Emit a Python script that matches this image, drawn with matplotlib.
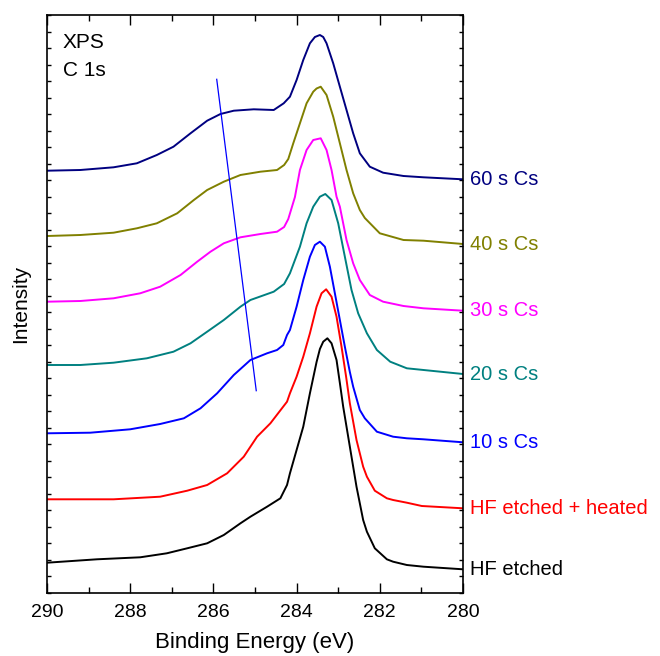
import matplotlib
matplotlib.use("Agg")
import matplotlib.pyplot as plt
from matplotlib.ticker import MultipleLocator, NullFormatter

plt.rcParams['font.family'] = ['Liberation Sans', 'DejaVu Sans']

# binding energy (eV) / intensity (arb. units, offset)
be_hf = [290, 288.8, 287.76, 287.12, 286.63, 286.15, 285.75, 285.35, 285.11, 284.71, 284.39, 284.23,
         284.16, 284.0, 283.84, 283.68, 283.52, 283.44, 283.36, 283.26, 283.16, 283.04, 282.96,
         282.88, 282.72, 282.56, 282.4, 282.31, 282.12, 281.83, 281.68, 281.35, 280.95, 280.0]
int_hf = [30.3, 33.7, 35.7, 39.7, 44.7, 49.7, 58, 69.7, 76.3, 86.3, 94.7, 108,
          119.7, 143, 166.3, 199.7, 231, 244, 251.3, 254.7, 249.7, 233, 210,
          186.3, 146.3, 106.3, 73, 61.3, 44.7, 33.7, 31.3, 28, 26.3, 23.7]

be_heat = [290, 288.4, 287.28, 286.63, 286.15, 285.67, 285.27, 284.95, 284.63, 284.23, 284.16,
           284.0, 283.84, 283.68, 283.52, 283.4, 283.29, 283.16, 283.04, 282.92, 282.81, 282.72,
           282.56, 282.4, 282.31, 282.12, 281.83, 281.68, 281.35, 280.99, 280.0]
int_heat = [93.7, 93.7, 96.3, 102.3, 108, 119.7, 136.3, 156.3, 169.7, 191.3, 199.7,
            216.3, 236.3, 259.7, 286.3, 299.7, 303.7, 296.3, 276.3, 246.3, 216.3, 189.7,
            153, 126.3, 116.3, 102.3, 94.7, 93, 90.3, 87, 84.7]

be_10 = [290, 288.96, 288.0, 287.28, 286.71, 286.31, 285.91, 285.51, 285.11, 284.71, 284.47, 284.32,
         284.23, 284.16, 284.0, 283.84, 283.68, 283.56, 283.44, 283.32, 283.2, 283.08, 282.96,
         282.84, 282.72, 282.64, 282.48, 282.36, 282.07, 281.68, 281.35, 280.95, 280.0]
int_10 = [159.7, 160.3, 163.7, 169, 174.7, 184.7, 199.7, 218, 233, 239.7, 243, 248,
          258, 263, 286.3, 313, 336.3, 348, 351.3, 346.3, 326.3, 299.7, 273,
          246.3, 221, 206.3, 183, 174.7, 161.3, 156.3, 154.7, 153.7, 150.7]

be_20 = [290, 289.2, 288.4, 287.6, 286.96, 286.55, 286.15, 285.75, 285.35, 285.11, 284.55, 284.3,
         284.16, 283.92, 283.76, 283.6, 283.44, 283.31, 283.16, 283.0, 282.84, 282.68, 282.52,
         282.31, 282.07, 281.75, 281.35, 280.0]
int_20 = [228, 228, 230.3, 234.7, 241.3, 249.7, 261.3, 273, 286.3, 293, 301.3, 309,
          319.7, 346.3, 369.7, 386.3, 396.3, 399, 393, 369.7, 336.3, 303, 279.7,
          259.7, 243, 231.3, 224.7, 219]

be_30 = [290, 289.2, 288.4, 287.76, 287.28, 286.79, 286.39, 286.07, 285.75, 285.35, 284.87, 284.47,
         284.3, 284.2, 284.04, 283.92, 283.76, 283.6, 283.42, 283.28, 283.16, 283.04, 282.96,
         282.8, 282.64, 282.48, 282.24, 281.92, 281.43, 280.95, 280.0]
int_30 = [291.3, 292, 294.7, 299.7, 306.3, 318, 331.3, 341.3, 349.7, 355.7, 359, 361.3,
          366, 374, 396, 423, 443, 453, 454.7, 443, 423, 396.3, 386.3,
          353, 329.7, 313, 298, 291.3, 287, 284.7, 282.3]

be_40 = [290, 289.2, 288.4, 287.84, 287.36, 286.87, 286.47, 286.15, 285.75, 285.35, 284.87, 284.47,
         284.3, 284.2, 284.08, 283.92, 283.76, 283.6, 283.52, 283.42, 283.28, 283.12, 282.96,
         282.8, 282.64, 282.48, 282.36, 282.0, 281.43, 280.95, 280.0]
int_40 = [357, 358, 360.3, 364.7, 369.7, 379.7, 393, 403, 411.3, 418, 421.3, 423,
          428, 434, 449.7, 469.7, 489.7, 501.3, 504.5, 506.3, 498, 476.3, 449.7,
          423, 399.7, 383, 375, 359.7, 353, 352.3, 349]

be_60 = [290, 289.2, 288.4, 287.84, 287.36, 286.96, 286.55, 286.15, 285.83, 285.51, 285.03, 284.55,
         284.31, 284.16, 284.0, 283.84, 283.68, 283.56, 283.44, 283.36, 283.28, 283.12, 282.96,
         282.8, 282.64, 282.48, 282.24, 281.92, 281.43, 280.95, 280.0]
int_60 = [422.3, 423, 425.7, 429.7, 438, 446.3, 459.7, 472.3, 479, 482.3, 483.7, 483,
          489.7, 496.3, 513, 533, 549.7, 556, 558, 556, 549.7, 529.7, 506.3,
          483, 459.7, 439.7, 426.3, 420.3, 417, 415.7, 413.7]

labels = ["HF etched", "HF etched + heated", "10 s Cs", "20 s Cs", "30 s Cs", "40 s Cs", "60 s Cs"]
colors = ["black", "#ff0000", "#0000ff", "#008080", "#ff00ff", "#808000", "#000080"]

# guide line across the shoulder
guide_be = [285.92, 284.97]
guide_int = [513.7, 202.3]

series = [(be_hf, int_hf), (be_heat, int_heat), (be_10, int_10), (be_20, int_20),
          (be_30, int_30), (be_40, int_40), (be_60, int_60)]

fig = plt.figure(figsize=(6.6, 6.56), dpi=100)
ax = fig.add_axes([47 / 660, 63 / 656, 416 / 660, 578 / 656])

for (be, inten), lab, col in zip(series, labels, colors):
    ax.plot(be, inten, color=col, lw=1.4, solid_joinstyle='round')
    ax.annotate(lab, xy=(280, inten[-1]), xytext=(5, 0), textcoords='offset points',
                color=col, fontsize=14.5, va='center', ha='left', annotation_clip=False)

ax.plot(guide_be, guide_int, color='#0000ff', lw=0.9)

ax.text(0.038, 0.968, "XPS\nC 1s", transform=ax.transAxes, fontsize=15, va='top', ha='left',
        linespacing=1.55)

ax.set_xlim(290, 280)
ax.set_ylim(0, 578)
ax.xaxis.set_major_locator(MultipleLocator(2))
ax.xaxis.set_minor_locator(MultipleLocator(1))
ax.yaxis.set_major_locator(MultipleLocator(578 / 35))
ax.yaxis.set_major_formatter(NullFormatter())
ax.tick_params(axis='x', which='major', direction='in', length=7, width=1, top=True,
               labelsize=14, pad=8)
ax.tick_params(axis='x', which='minor', direction='in', length=4, width=1, top=True)
ax.tick_params(axis='y', which='major', direction='in', length=3, width=1, right=True)
for s in ax.spines.values():
    s.set_linewidth(1.2)

ax.set_xlabel("Binding Energy (eV)", fontsize=16, labelpad=8)
ax.set_ylabel("Intensity", fontsize=15)
ax.yaxis.set_label_coords(-0.04, 0.5)

fig.savefig("out.png", dpi=100)
